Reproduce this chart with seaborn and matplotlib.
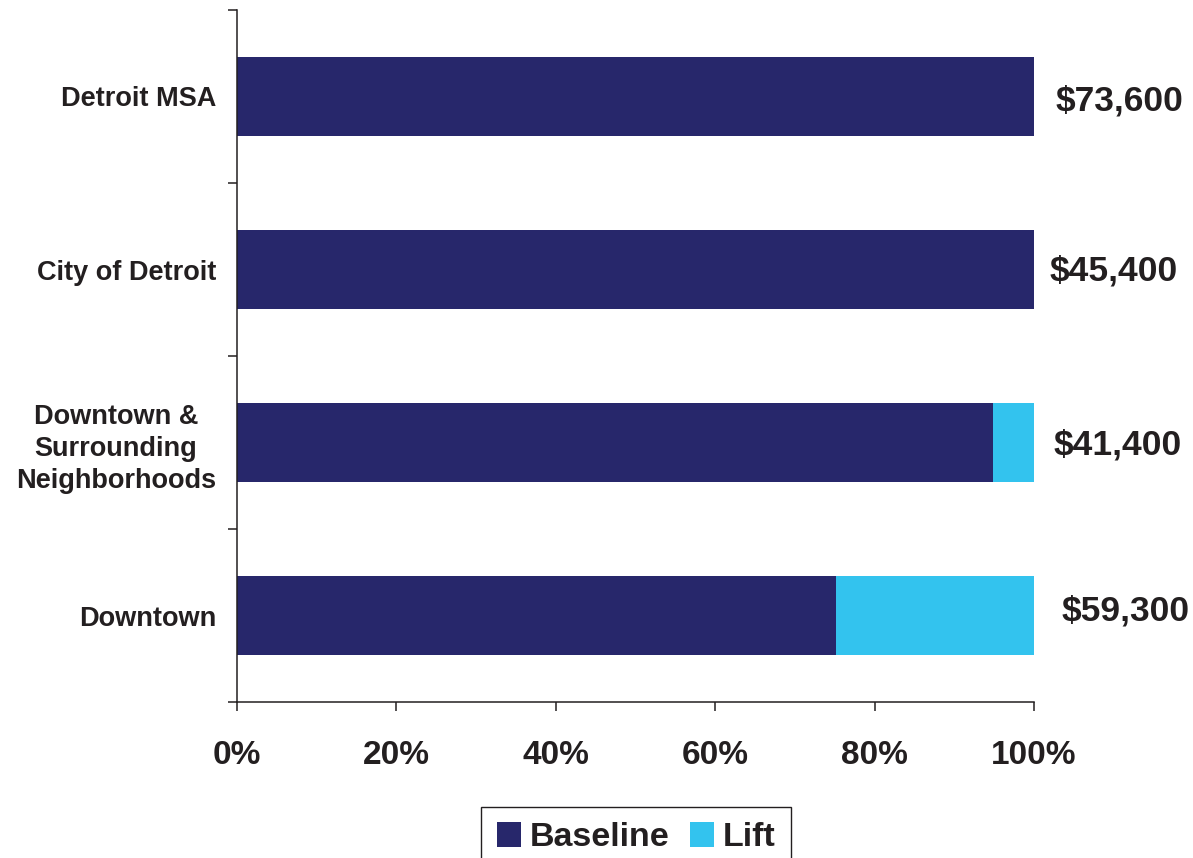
import matplotlib
matplotlib.use("Agg")
import matplotlib.pyplot as plt
from matplotlib.patches import Patch
from matplotlib.ticker import FixedLocator, PercentFormatter
import pandas as pd
import seaborn as sns

# Income groups, top to bottom
areas = ["Detroit MSA", "City of Detroit",
         "Downtown &\nSurrounding\nNeighborhoods", "Downtown"]
# Share of the 100% bar taken by each component
baseline_pct = [100.0, 100.0, 94.9, 75.2]
lift_pct = [0.0, 0.0, 5.1, 24.8]
# Median income shown next to each bar
income_labels = ["$73,600", "$45,400", "$41,400", "$59,300"]
# Small per-label nudges (pixels, +dy is downward) for the income annotations
label_dx = [22, 16, 20, 28]
label_dy = [4, 2, 3, -4]

x_ticks = [0, 20, 40, 60, 80, 100]

NAVY = "#27276B"
CYAN = "#33C3EE"
INK = "#231F20"

sns.set_theme(style="white")
plt.rcParams["font.family"] = ["Liberation Sans", "DejaVu Sans"]
plt.rcParams["font.weight"] = "bold"

df = pd.DataFrame({
    "area": areas,
    "baseline": baseline_pct,
    "lift": lift_pct,
})
df["total"] = df["baseline"] + df["lift"]

fig = plt.figure(figsize=(11.93, 8.58), dpi=100)
W, H = 1193, 858
ax = fig.add_axes([237 / W, 1 - 702 / H, 797 / W, 692 / H])

# Stacked bars: full length in the lift colour, baseline drawn on top
sns.barplot(data=df, y="area", x="total", color=CYAN, orient="h",
            width=0.455, ax=ax, saturation=1, linewidth=0)
sns.barplot(data=df, y="area", x="baseline", color=NAVY, orient="h",
            width=0.455, ax=ax, saturation=1, linewidth=0)

ax.set_xlim(0, 100)
ax.set_ylim(len(areas) - 0.5, -0.5)
ax.set_xlabel("")
ax.set_ylabel("")

for side in ("top", "right"):
    ax.spines[side].set_visible(False)
for side in ("left", "bottom"):
    ax.spines[side].set_color(INK)
    ax.spines[side].set_linewidth(1.1)

ax.xaxis.set_major_locator(FixedLocator(x_ticks))
ax.xaxis.set_major_formatter(PercentFormatter(decimals=0))
ax.tick_params(axis="x", which="major", bottom=True, direction="out",
               length=6.5, width=1.1, color=INK, labelsize=24,
               labelcolor=INK, pad=21)

# Category boundaries carry the tick marks; the labels sit between them
ax.yaxis.set_minor_locator(FixedLocator([i - 0.5 for i in range(len(areas) + 1)]))
ax.tick_params(axis="y", which="minor", left=True, direction="out",
               length=6.5, width=1.1, color=INK)
ax.tick_params(axis="y", which="major", left=True, length=0,
               labelsize=19.5, labelcolor=INK, pad=15)
for lbl in ax.get_yticklabels():
    lbl.set_multialignment("center")
    lbl.set_linespacing(1.3)
    lbl.set_fontweight("bold")
for lbl in ax.get_xticklabels():
    lbl.set_fontweight("bold")

# Income annotations to the right of each bar
for i, (txt, dx, dy) in enumerate(zip(income_labels, label_dx, label_dy)):
    ax.annotate(txt, xy=(df["total"][i], i), xycoords="data",
                xytext=(dx * 0.72, -dy * 0.72), textcoords="offset points",
                ha="left", va="center", fontsize=25.5, fontweight="bold",
                color=INK, annotation_clip=False)

handles = [Patch(facecolor=NAVY, edgecolor="none", label="Baseline"),
           Patch(facecolor=CYAN, edgecolor="none", label="Lift")]
leg = fig.legend(handles=handles, loc="upper center",
                 bbox_to_anchor=(636 / W, 1 - 807 / H), ncol=2,
                 frameon=True, fancybox=False, framealpha=1,
                 prop={"size": 24.5, "weight": "bold"},
                 handlelength=0.72, handleheight=0.72, handletextpad=0.25,
                 columnspacing=0.6, borderpad=0.45, borderaxespad=0)
leg.get_frame().set_edgecolor(INK)
leg.get_frame().set_linewidth(1.0)
for t in leg.get_texts():
    t.set_color(INK)

fig.savefig("out.png", dpi=100)
